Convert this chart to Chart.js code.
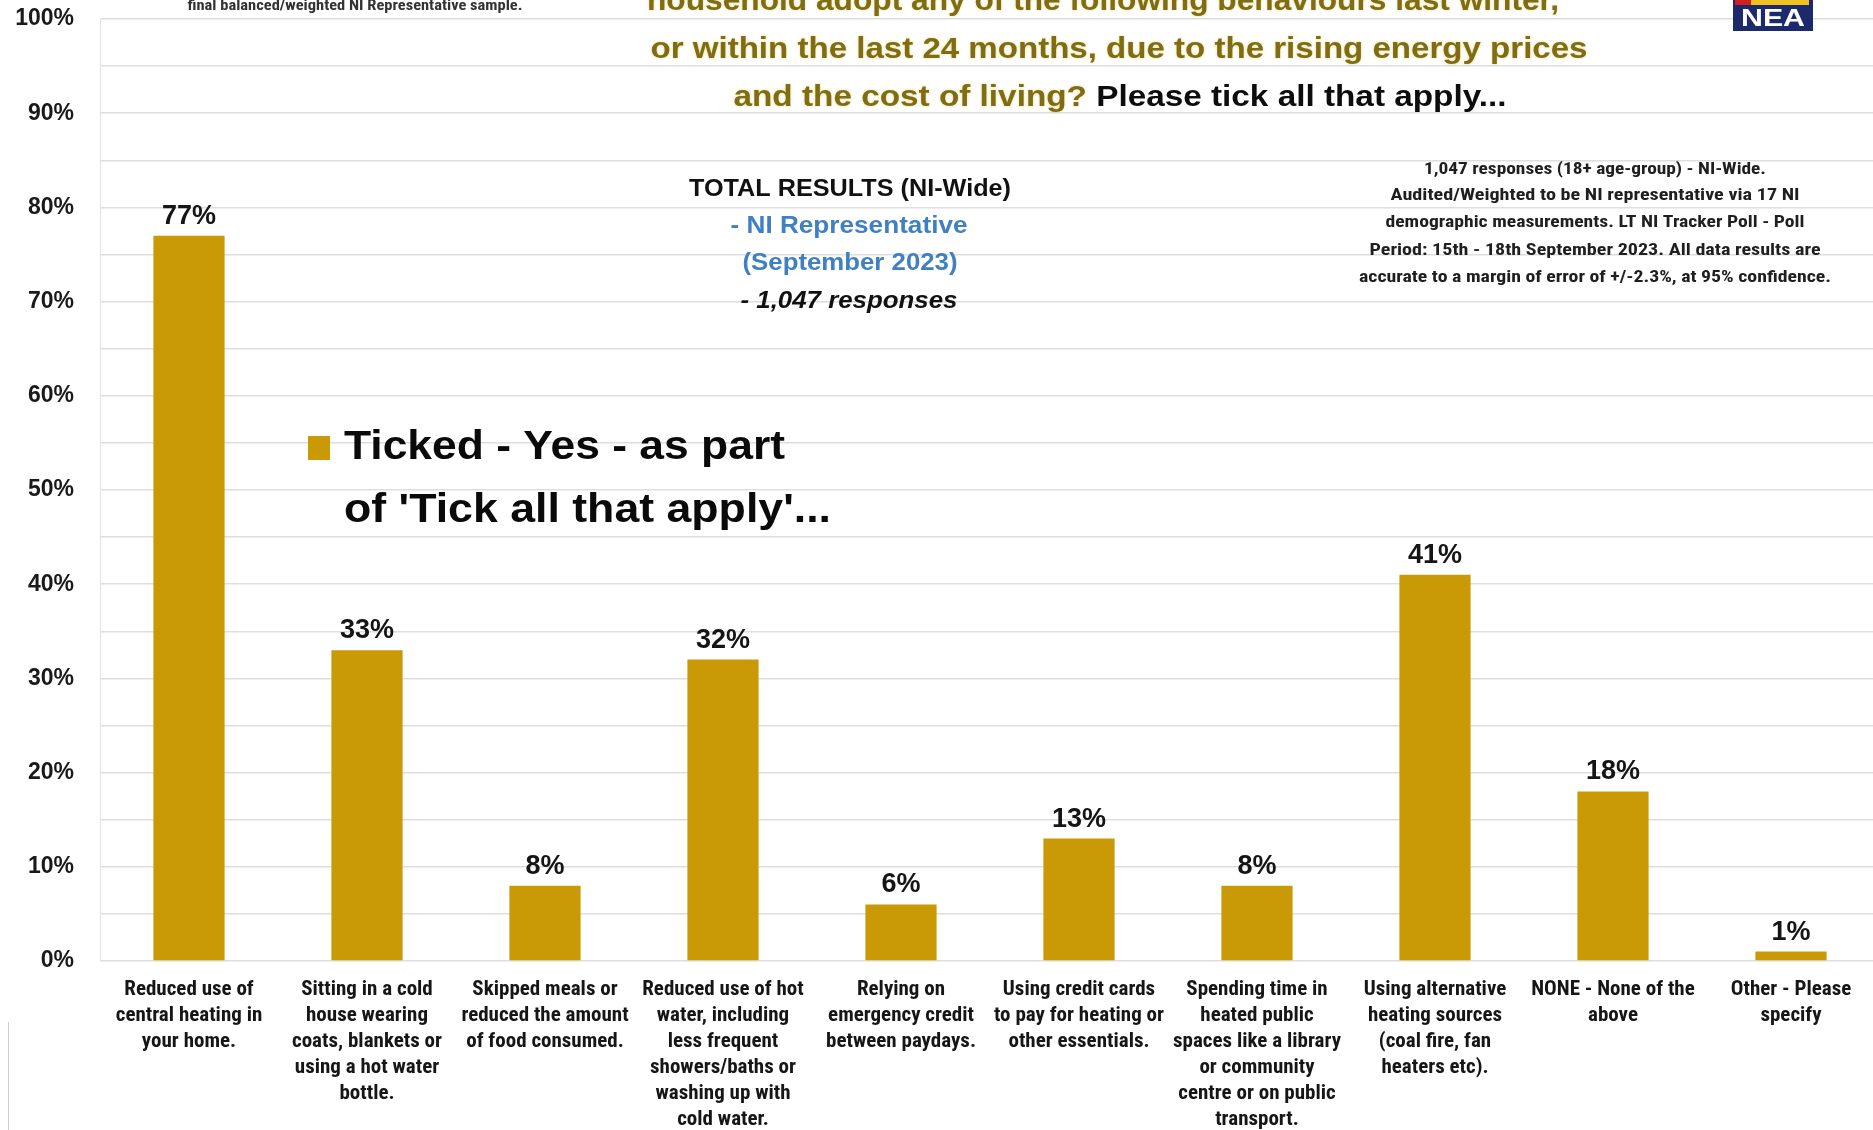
<!DOCTYPE html>
<html>
<head>
<meta charset="utf-8">
<script src="https://cdn.jsdelivr.net/npm/chart.js@4.4.0/dist/chart.umd.min.js"></script>
<style>
html,body{margin:0;padding:0;background:#ffffff;overflow:hidden;width:1873px;height:1130px;}
canvas{display:block;}
</style>
</head>
<body>
<canvas id="c" width="1890" height="1130"></canvas>
<script>
// ---- Data ----
const categories = [
  ["Reduced use of", "central heating in", "your home."],
  ["Sitting in a cold", "house wearing", "coats, blankets or", "using a hot water", "bottle."],
  ["Skipped meals or", "reduced the amount", "of food consumed."],
  ["Reduced use of hot", "water, including", "less frequent", "showers/baths or", "washing up with", "cold water."],
  ["Relying on", "emergency credit", "between paydays."],
  ["Using credit cards", "to pay for heating or", "other essentials."],
  ["Spending time in", "heated public", "spaces like a library", "or community", "centre or on public", "transport."],
  ["Using alternative", "heating sources", "(coal fire, fan", "heaters etc)."],
  ["NONE - None of the", "above"],
  ["Other - Please", "specify"]
];
const values = [77, 33, 8, 32, 6, 13, 8, 41, 18, 1];
const seriesName = "Ticked - Yes - as part of 'Tick all that apply'...";
const legendLines = ["Ticked - Yes - as part", "of 'Tick all that apply'..."];
const titleLines = [
  "household adopt any of the following behaviours last winter,",
  "or within the last 24 months, due to the rising energy prices",
  "and the cost of living? ",
  "Please tick all that apply..."
];
const topNote = "final balanced/weighted NI Representative sample.";
const boxLines = ["TOTAL RESULTS (NI-Wide)", "- NI Representative", "(September 2023)", "- 1,047 responses"];
const noteLines = [
  "1,047 responses (18+ age-group) - NI-Wide.",
  "Audited/Weighted to be NI representative via 17 NI",
  "demographic measurements. LT NI Tracker Poll - Poll",
  "Period: 15th - 18th September 2023. All data results are",
  "accurate to a margin of error of +/-2.3%, at 95% confidence."
];

const GOLD = '#c99a06';
const OLIVE = '#7f6c14';
const BLUE = '#3f7fc4';
const NARROW = "'Liberation Sans Narrow','Arial Narrow','Roboto Condensed',sans-serif";
const SANS = "'Liberation Sans',Arial,Helvetica,sans-serif";

function drawFit(ctx, text, cx, y, w, font, color, align) {
  ctx.save();
  ctx.font = font;
  const m = ctx.measureText(text).width;
  const s = w / m;
  ctx.translate(cx, y);
  ctx.scale(s, 1);
  ctx.fillStyle = color;
  ctx.textAlign = align || 'center';
  ctx.textBaseline = 'middle';
  ctx.fillText(text, 0, 0);
  ctx.restore();
}

const decor = {
  id: 'decor',
  beforeDraw(chart) {
    const ctx = chart.ctx;
    ctx.save();
    ctx.fillStyle = '#ffffff';
    ctx.fillRect(0, 0, chart.width, chart.height);
    ctx.strokeStyle = '#cfcfcf';
    ctx.lineWidth = 1;
    ctx.beginPath();
    ctx.moveTo(8.5, 1022); ctx.lineTo(8.5, 1130);
    ctx.stroke();
    ctx.restore();
  },
  afterDatasetsDraw(chart) {
    const ctx = chart.ctx;
    const meta = chart.getDatasetMeta(0);
    ctx.save();
    ctx.font = "bold 27px " + SANS;
    ctx.fillStyle = '#151515';
    ctx.textAlign = 'center';
    ctx.textBaseline = 'alphabetic';
    meta.data.forEach((bar, i) => {
      ctx.fillText(values[i] + '%', bar.x, bar.y - 12);
    });
    ctx.restore();
  },
  afterDraw(chart) {
    const ctx = chart.ctx;
    // Title (partially cut at top)
    ctx.save();
    ctx.shadowColor = 'rgba(210,190,40,0.55)';
    ctx.shadowBlur = 3;
    drawFit(ctx, titleLines[0], 1103, 2, 912, "bold 30px " + SANS, OLIVE);
    drawFit(ctx, titleLines[1], 1119, 50, 937, "bold 30px " + SANS, OLIVE);
    ctx.restore();
    // Mixed-colour third line
    ctx.save();
    ctx.font = "bold 30px " + SANS;
    const wa = ctx.measureText(titleLines[2]).width;
    const wb = ctx.measureText(titleLines[3]).width;
    const total = 773;
    const s = total / (wa + wb);
    ctx.translate(1120 - total / 2, 98);
    ctx.scale(s, 1);
    ctx.textAlign = 'left';
    ctx.textBaseline = 'middle';
    ctx.shadowColor = 'rgba(210,190,40,0.55)';
    ctx.shadowBlur = 3;
    ctx.fillStyle = OLIVE;
    ctx.fillText(titleLines[2], 0, 0);
    ctx.shadowBlur = 0;
    ctx.fillStyle = '#0d0d0d';
    ctx.fillText(titleLines[3], wa, 0);
    ctx.restore();

    // top-left small note
    drawFit(ctx, topNote, 355, 6, 335, "bold 15px " + NARROW, '#333333');

    // centre box
    drawFit(ctx, boxLines[0], 850, 189, 322, "bold 24px " + SANS, '#111111');
    drawFit(ctx, boxLines[1], 849, 226, 237, "bold 24px " + SANS, BLUE);
    drawFit(ctx, boxLines[2], 850, 263, 215, "bold 24px " + SANS, BLUE);
    drawFit(ctx, boxLines[3], 849, 301, 217, "italic bold 24px " + SANS, '#111111');

    // right note
    const nw = [342, 409, 419, 451, 472];
    const ny = [170, 196, 223, 251, 278];
    noteLines.forEach((t, i) => drawFit(ctx, t, 1595, ny[i], nw[i], "bold 16px " + NARROW, '#1f1f1f'));

    // legend
    ctx.save();
    ctx.fillStyle = GOLD;
    ctx.fillRect(308, 436, 22, 24);
    ctx.restore();
    drawFit(ctx, legendLines[0], 344, 448, 441, "bold 40px " + SANS, '#0a0a0a', 'left');
    drawFit(ctx, legendLines[1], 344, 511, 487, "bold 40px " + SANS, '#0a0a0a', 'left');

    // NEA logo
    ctx.save();
    ctx.fillStyle = '#1c2a6b';
    ctx.fillRect(1733, 0, 80, 31);
    ctx.fillStyle = '#d02020';
    ctx.fillRect(1735, 0, 16, 5);
    ctx.fillStyle = '#f0c020';
    ctx.fillRect(1751, 0, 58, 5);
    ctx.restore();
    drawFit(ctx, 'NEA', 1773, 19, 64, "bold 24px " + SANS, '#ffffff');
  }
};

new Chart(document.getElementById('c'), {
  type: 'bar',
  data: {
    labels: categories,
    datasets: [{
      label: seriesName,
      data: values,
      backgroundColor: GOLD,
      borderWidth: 0,
      categoryPercentage: 1.0,
      barPercentage: 0.4
    }]
  },
  options: {
    responsive: false,
    animation: false,
    layout: { padding: { left: 0, right: 10, top: 19, bottom: 0 } },
    plugins: { legend: { display: false }, tooltip: { enabled: false } },
    scales: {
      x: {
        grid: { display: false, drawTicks: false },
        border: { display: false },
        ticks: {
          autoSkip: false, maxRotation: 0, minRotation: 0,
          padding: 16,
          color: '#161616',
          font: { family: NARROW, size: 21, weight: 'bold', lineHeight: 1.24 }
        },
        afterFit(scale) { scale.height = 169; scale.paddingLeft = 0; scale.paddingRight = 0; }
      },
      y: {
        min: 0, max: 100,
        grid: { color: '#dedede', lineWidth: 1.5, drawTicks: false },
        border: { display: true, color: '#e2e2e2' },
        ticks: {
          stepSize: 5,
          padding: 26,
          color: '#1a1a1a',
          font: { family: SANS, size: 23, weight: 'bold' },
          callback: v => (v % 10 === 0 ? v + '%' : '')
        },
        afterFit(scale) { scale.width = 100; scale.paddingTop = 0; scale.paddingBottom = 0; }
      }
    }
  },
  plugins: [decor]
});
</script>
</body>
</html>
